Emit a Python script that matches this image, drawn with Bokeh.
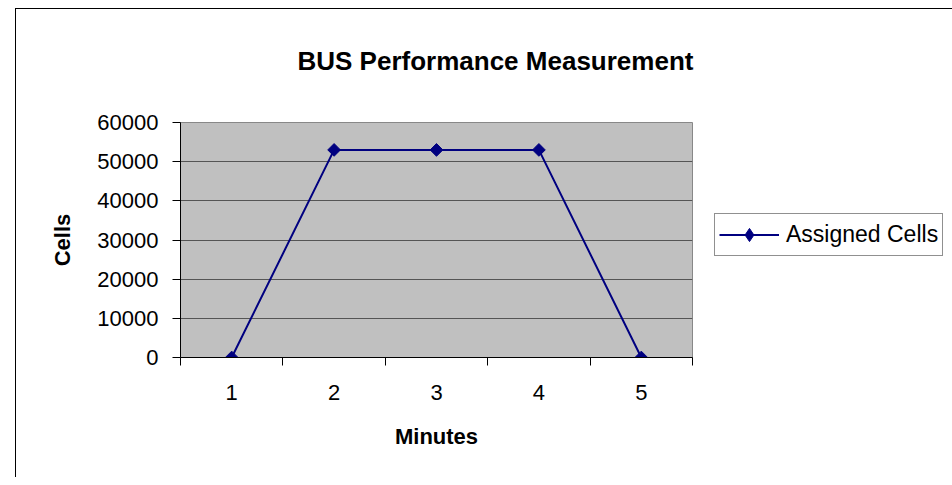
import math
from bokeh.plotting import figure
from bokeh.models import (FixedTicker, Legend, LegendItem, Title,
                          Range1d, ColumnDataSource)
from bokeh.embed import file_html
from bokeh.resources import INLINE

# ---- data ----
minutes = [1, 2, 3, 4, 5]
assigned_cells = [0, 53000, 53000, 53000, 0]
y_ticks = [0, 10000, 20000, 30000, 40000, 50000, 60000]
series_name = "Assigned Cells"
title_text = "BUS Performance Measurement"
x_title = "Minutes"
y_title = "Cells"

FONT = "Liberation Sans"
NAVY = "#000080"

src = ColumnDataSource(data=dict(x=minutes, y=assigned_cells))

p = figure(frame_width=512, frame_height=235,
           min_border_left=180, min_border_right=252,
           min_border_top=122, min_border_bottom=120,
           x_range=Range1d(minutes[0] - 0.5, minutes[-1] + 0.5),
           y_range=Range1d(y_ticks[0], y_ticks[-1]),
           output_backend="svg", toolbar_location=None, title=None)

p.background_fill_color = "#C0C0C0"
p.border_fill_color = "white"
p.border_fill_alpha = 0
p.outline_line_color = "#888888"
p.outline_line_width = 1
# white chart area with its left and top border edges
p.styles = {
    "background": ("linear-gradient(#000, #000) 15px 8px / 1px 100% no-repeat, "
                   "linear-gradient(#000, #000) 15px 8px / 100% 1px no-repeat, "
                   "#ffffff"),
}

# x axis: labels at centres, tick marks between categories
bounds = [m - 0.5 for m in minutes] + [minutes[-1] + 0.5]
p.xaxis.ticker = FixedTicker(ticks=minutes, minor_ticks=bounds)
p.xaxis.major_tick_line_color = None
p.xaxis.major_tick_out = 0
p.xaxis.major_tick_in = 0
p.xaxis.minor_tick_line_color = "black"
p.xaxis.minor_tick_out = 8
p.xaxis.minor_tick_in = 0
p.xaxis.axis_line_color = "black"
p.xaxis.major_label_standoff = 19
p.xaxis.axis_label = x_title
p.xaxis.axis_label_standoff = 21

# y axis
p.yaxis.ticker = FixedTicker(ticks=y_ticks)
p.yaxis.minor_tick_line_color = None
p.yaxis.major_tick_out = 8
p.yaxis.major_tick_in = 0
p.yaxis.major_tick_line_color = "black"
p.yaxis.axis_line_color = "black"
p.yaxis.major_label_standoff = 14
p.yaxis.axis_label = y_title
p.yaxis.axis_label_standoff = 19

for ax in (p.xaxis, p.yaxis):
    ax.major_label_text_font = FONT
    ax.major_label_text_font_size = "22px"
    ax.major_label_text_color = "black"
    ax.axis_label_text_font = FONT
    ax.axis_label_text_font_size = "22px"
    ax.axis_label_text_font_style = "bold"
    ax.axis_label_text_color = "black"

p.xgrid.visible = False
p.ygrid.grid_line_color = "#555555"
p.ygrid.grid_line_width = 1

line_r = p.line("x", "y", source=src, line_color=NAVY, line_width=2)
mark_r = p.scatter("x", "y", source=src, marker="square", size=9,
                   angle=math.pi / 4, fill_color=NAVY, line_color=NAVY)
# hidden diamond renderer, used only for the legend swatch
legend_mark = p.scatter("x", "y", source=src, marker="diamond", size=13,
                        fill_color=NAVY, line_color=NAVY, visible=False)

legend = Legend(items=[LegendItem(label=series_name,
                                  renderers=[line_r, legend_mark])],
                location=(22, 101), orientation="vertical",
                click_policy="none", inactive_fill_alpha=0,
                border_line_color="#222222", border_line_width=1,
                background_fill_color="white", background_fill_alpha=1,
                padding=4, spacing=0, margin=0,
                glyph_width=60, glyph_height=33, label_standoff=7,
                label_width=150, label_height=23,
                label_text_font=FONT, label_text_font_size="23px",
                label_text_color="black")
p.add_layout(legend, "right")

title = Title(text=title_text, align="left", offset=117,
              vertical_align="top", standoff=89,
              text_font=FONT, text_font_size="26px", text_font_style="bold",
              text_color="black")
p.add_layout(title, "above")

open("out.html", "w").write(file_html(p, INLINE))
